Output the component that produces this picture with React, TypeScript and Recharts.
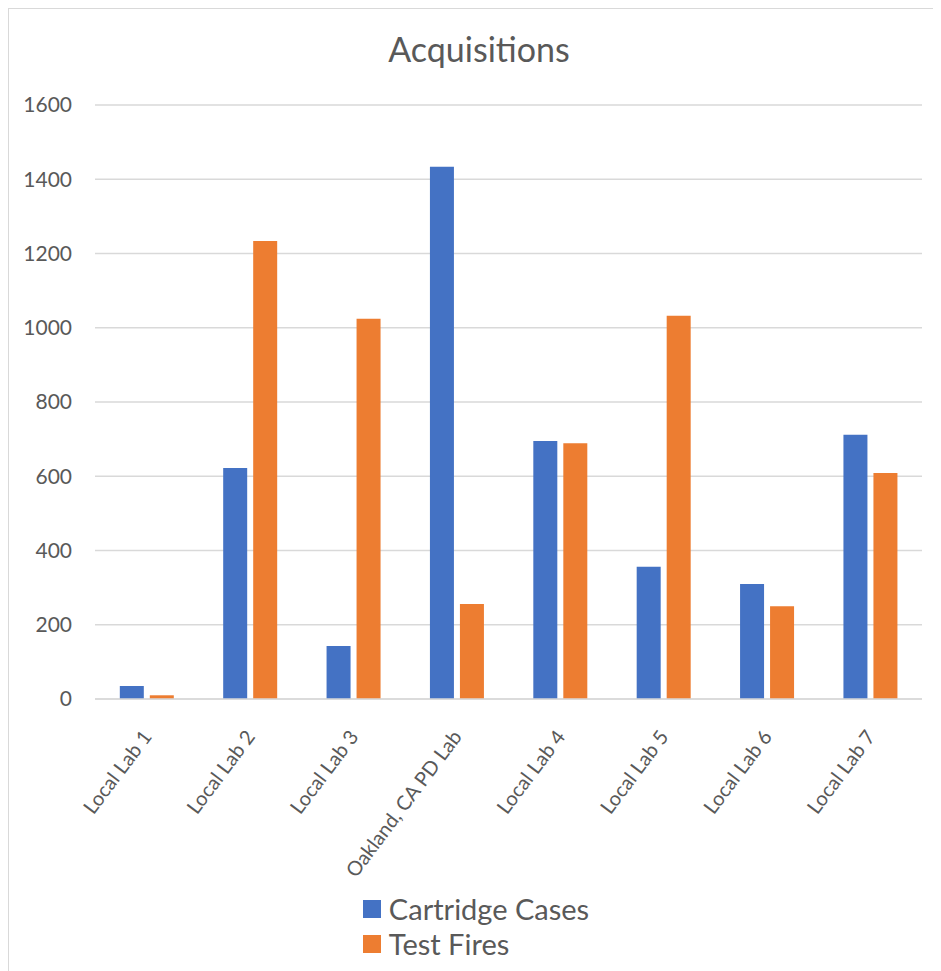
import { BarChart, Bar, XAxis, YAxis, CartesianGrid, Legend } from "recharts";

const LABS = [
  "Local Lab 1",
  "Local Lab 2",
  "Local Lab 3",
  "Oakland, CA PD Lab",
  "Local Lab 4",
  "Local Lab 5",
  "Local Lab 6",
  "Local Lab 7",
];
const CARTRIDGE_CASES = [35, 622, 143, 1434, 695, 356, 310, 712];
const TEST_FIRES = [10, 1234, 1024, 256, 689, 1032, 250, 609];
const Y_TICKS = [0, 200, 400, 600, 800, 1000, 1200, 1400, 1600];

const SERIES = [
  { key: "cartridge", name: "Cartridge Cases", color: "#4472C4" },
  { key: "test", name: "Test Fires", color: "#ED7D31" },
];

const data = LABS.map((lab, i) => ({
  lab,
  cartridge: CARTRIDGE_CASES[i],
  test: TEST_FIRES[i],
}));

const FONT = "Lato, 'Open Sans', sans-serif";
const TEXT = "#595959";

function RotatedTick(props: any) {
  const { x, y, payload } = props;
  return (
    <g transform={`translate(${x + 6},${y + 30})`}>
      <text
        x={0}
        y={0}
        textAnchor="end"
        transform="rotate(-53)"
        fill={TEXT}
        fontSize={20}
        fontFamily={FONT}
      >
        {payload.value}
      </text>
    </g>
  );
}

function LegendBox() {
  return (
    <div style={{ display: "flex", justifyContent: "center" }}>
      <div style={{ marginLeft: -6 }}>
        {SERIES.map((s) => (
          <div
            key={s.key}
            style={{
              display: "flex",
              alignItems: "center",
              height: 35,
              fontFamily: FONT,
              fontSize: 29,
              color: TEXT,
            }}
          >
            <span
              style={{
                width: 18,
                height: 18,
                background: s.color,
                marginRight: 8,
                display: "inline-block",
              }}
            />
            {s.name}
          </div>
        ))}
      </div>
    </div>
  );
}

export default function App() {
  return (
    <div
      style={{
        position: "relative",
        width: 932,
        height: 963,
        marginLeft: -1,
        marginTop: -1,
        borderLeft: "2px solid #d9d9d9",
        borderTop: "2px solid #d9d9d9",
        fontFamily: FONT,
      }}
    >
      <div
        style={{
          position: "absolute",
          top: 23,
          left: 0,
          width: 940,
          textAlign: "center",
          fontSize: 34,
          lineHeight: "34px",
          color: TEXT,
        }}
      >
        Acquisitions
      </div>
      <BarChart
        width={930}
        height={962}
        data={data}
        margin={{ top: 96, right: 17, bottom: 82, left: 0 }}
        barCategoryGap="24%"
        barGap={6}
      >
        <CartesianGrid vertical={false} stroke="#d9d9d9" strokeWidth={1.5} />
        <XAxis
          dataKey="lab"
          interval={0}
          height={190}
          tickLine={false}
          axisLine={{ stroke: "#d9d9d9", strokeWidth: 1.5 }}
          tick={<RotatedTick />}
        />
        <YAxis
          domain={[0, 1600]}
          ticks={Y_TICKS}
          width={86}
          axisLine={false}
          tickLine={false}
          tickMargin={17}
          tick={{ fill: TEXT, fontSize: 21, fontFamily: FONT }}
        />
        {SERIES.map((s) => (
          <Bar
            key={s.key}
            dataKey={s.key}
            name={s.name}
            fill={s.color}
            isAnimationActive={false}
          />
        ))}
        <Legend
          layout="vertical"
          align="center"
          verticalAlign="middle"
          content={<LegendBox />}
          wrapperStyle={{ top: 882, left: 0, width: 940 }}
        />
      </BarChart>
    </div>
  );
}
